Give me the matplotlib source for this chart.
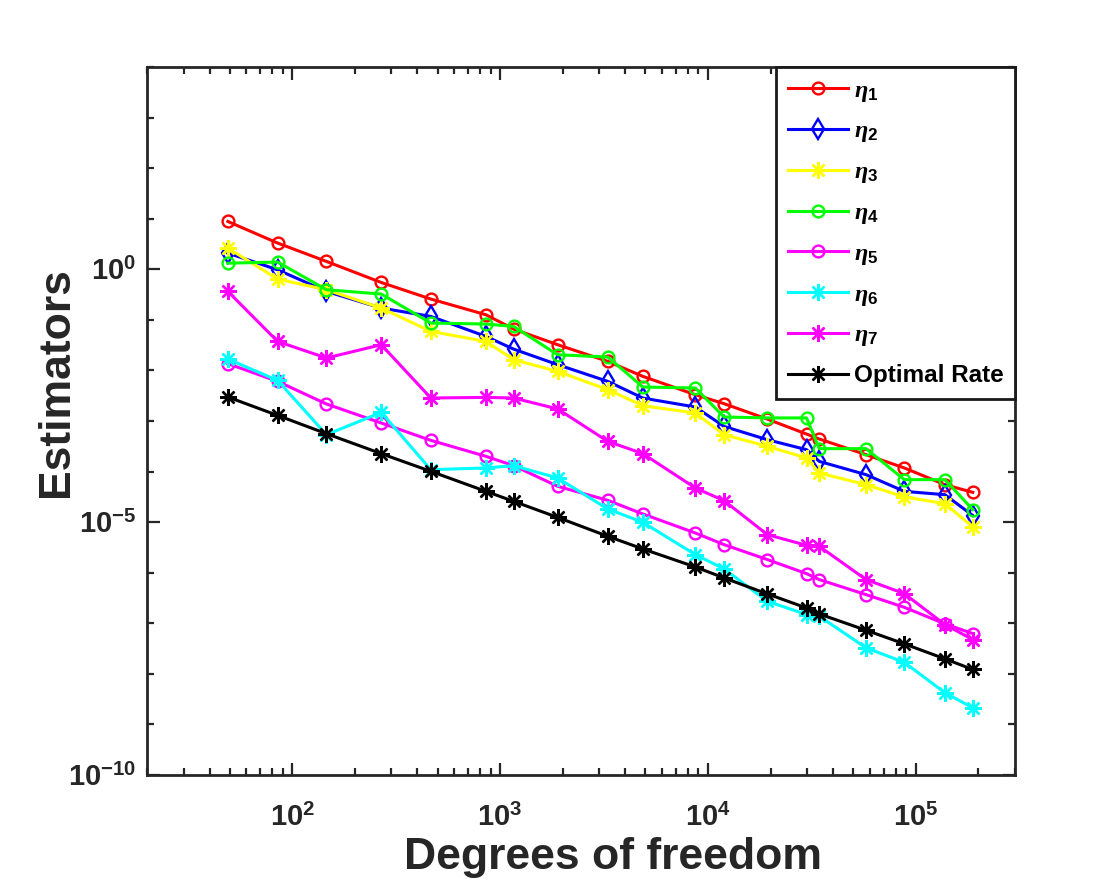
import matplotlib
matplotlib.use("Agg")
import matplotlib.pyplot as plt
from matplotlib.ticker import FixedLocator, FixedFormatter, NullFormatter

plt.rcParams['font.family'] = ['Liberation Sans', 'DejaVu Sans']
plt.rcParams['font.weight'] = 'bold'
plt.rcParams['mathtext.fontset'] = 'custom'
plt.rcParams['mathtext.rm'] = 'Liberation Sans:bold'
plt.rcParams['mathtext.bf'] = 'Liberation Sans:bold'
plt.rcParams['mathtext.it'] = 'Liberation Serif:italic'

dofs = [49, 85, 146, 268, 464, 855, 1161, 1892, 3296, 4862, 8690, 11950,
        19300, 29800, 34300, 57600, 88000, 138000, 188000]

eta1 = [8.81, 3.30, 1.43, 0.548, 0.258, 0.126, 0.0658, 0.0322, 0.0151, 0.00762,
        0.00331, 0.00220, 0.00109, 5.52e-4, 4.41e-4, 2.16e-4, 1.18e-4, 5.51e-5, 3.88e-5]
eta2 = [2.09, 0.977, 0.365, 0.171, 0.117, 0.0470, 0.0264, 0.0130, 0.00607, 0.00284,
        0.00189, 7.82e-4, 4.27e-4, 2.71e-4, 1.59e-4, 8.69e-5, 4.06e-5, 3.49e-5, 1.35e-5]
eta3 = [2.62, 0.640, 0.394, 0.171, 0.0590, 0.0374, 0.0163, 0.00957, 0.00416, 0.00200,
        0.00144, 5.36e-4, 3.15e-4, 1.86e-4, 9.38e-5, 5.51e-5, 3.15e-5, 2.32e-5, 8.04e-6]
eta4 = [1.32, 1.39, 0.394, 0.324, 0.0865, 0.0826, 0.0741, 0.0204, 0.0184, 0.00470,
        0.00449, 0.00120, 0.00115, 0.00115, 2.84e-4, 2.84e-4, 6.92e-5, 6.92e-5, 1.77e-5]
eta5 = [0.0136, 0.00607, 0.00217, 9.12e-4, 4.14e-4, 2.00e-4, 1.31e-4, 5.11e-5, 2.70e-5,
        1.45e-5, 6.11e-6, 3.59e-6, 1.82e-6, 9.59e-7, 7.31e-7, 3.69e-7, 2.07e-7, 9.73e-8, 6.25e-8]
eta6 = [0.0168, 0.00634, 5.36e-4, 0.00148, 1.09e-4, 1.18e-4, 1.31e-4, 7.46e-5, 1.82e-5,
        9.91e-6, 2.28e-6, 1.19e-6, 2.72e-7, 1.49e-7, 1.38e-7, 3.27e-8, 1.69e-8, 4.22e-9, 2.13e-9]
eta7 = [0.365, 0.0374, 0.0176, 0.0322, 0.00285, 0.00293, 0.00285, 0.00173, 3.95e-4,
        2.26e-4, 4.74e-5, 2.66e-5, 5.66e-6, 3.48e-6, 3.33e-6, 7.31e-7, 3.86e-7, 9.42e-8, 4.76e-8]
optimal = [0.00298, 0.00129, 5.61e-4, 2.26e-4, 1.01e-4, 4.06e-5, 2.58e-5, 1.24e-5, 5.25e-6,
           2.95e-6, 1.30e-6, 7.89e-7, 3.81e-7, 2.01e-7, 1.53e-7, 7.28e-8, 3.92e-8, 1.98e-8, 1.22e-8]

series_labels = [r'$\eta_{1}$', r'$\eta_{2}$', r'$\eta_{3}$', r'$\eta_{4}$',
                 r'$\eta_{5}$', r'$\eta_{6}$', r'$\eta_{7}$', 'Optimal Rate']

xtick_vals = [1e2, 1e3, 1e4, 1e5]
xtick_labels = [r'$10^{2}$', r'$10^{3}$', r'$10^{4}$', r'$10^{5}$']
ytick_vals = [1e-10, 1e-5, 1e0]
ytick_labels = [r'$10^{-10}$', r'$10^{-5}$', r'$10^{0}$']

AST = (8, 2, 0)
styles = [
    dict(color=(1, 0, 0), marker='o', ms=8.5, mfc='none'),
    dict(color=(0, 0, 1), marker='d', ms=10, mfc='none'),
    dict(color=(1, 1, 0), marker=AST, ms=12),
    dict(color=(0, 1, 0), marker='o', ms=8.5, mfc='none'),
    dict(color=(1, 0, 1), marker='o', ms=8.5, mfc='none'),
    dict(color=(0, 1, 1), marker=AST, ms=12),
    dict(color=(1, 0, 1), marker=AST, ms=12),
    dict(color=(0, 0, 0), marker=AST, ms=12),
]

fig = plt.figure(figsize=(11.2, 8.9), dpi=100)
ax = fig.add_axes([147 / 1120, 115 / 890, 868 / 1120, 708 / 890])

all_series = [eta1, eta2, eta3, eta4, eta5, eta6, eta7, optimal]
for ys, lab, st in zip(all_series, series_labels, styles):
    ax.loglog(dofs, ys, label=lab, lw=2.2, mew=1.7, **st)

ax.set_xlim(20, 3e5)
ax.set_ylim(1e-10, 1e4)

ax.xaxis.set_major_locator(FixedLocator(xtick_vals))
ax.xaxis.set_major_formatter(FixedFormatter(xtick_labels))
ax.xaxis.set_minor_locator(FixedLocator([m * 10 ** e for e in range(1, 6) for m in range(2, 10)]))
ax.xaxis.set_minor_formatter(NullFormatter())
ax.yaxis.set_major_locator(FixedLocator(ytick_vals))
ax.yaxis.set_major_formatter(FixedFormatter(ytick_labels))
ax.yaxis.set_minor_locator(FixedLocator([10.0 ** e for e in range(-10, 5)]))
ax.yaxis.set_minor_formatter(NullFormatter())

axcol = (0.15, 0.15, 0.15)
for sp in ax.spines.values():
    sp.set_linewidth(2.0)
    sp.set_color(axcol)
ax.tick_params(which='both', direction='in', top=True, right=True, color=axcol,
               labelcolor=axcol, width=1.6)
ax.tick_params(which='major', length=9, labelsize=21)
ax.tick_params(axis='x', which='major', pad=21)
ax.tick_params(axis='y', which='major', pad=8)
ax.tick_params(which='minor', length=5)

ax.set_xlabel('Degrees of freedom', fontsize=32, fontweight='bold', color=axcol)
ax.set_ylabel('Estimators', fontsize=32, fontweight='bold', color=axcol)
ax.xaxis.set_label_coords(0.537, -0.087)
ax.yaxis.set_label_coords(-0.081, 0.555)

leg = ax.legend(loc='upper right', borderaxespad=0, fancybox=False, framealpha=1,
                edgecolor=(0.1, 0.1, 0.1), prop={'weight': 'bold', 'size': 17.5},
                handlelength=2.45, handletextpad=0.25, labelspacing=0.65,
                borderpad=0.48)
leg.get_frame().set_linewidth(2.0)

fig.savefig('out.png', dpi=100, facecolor='white')
